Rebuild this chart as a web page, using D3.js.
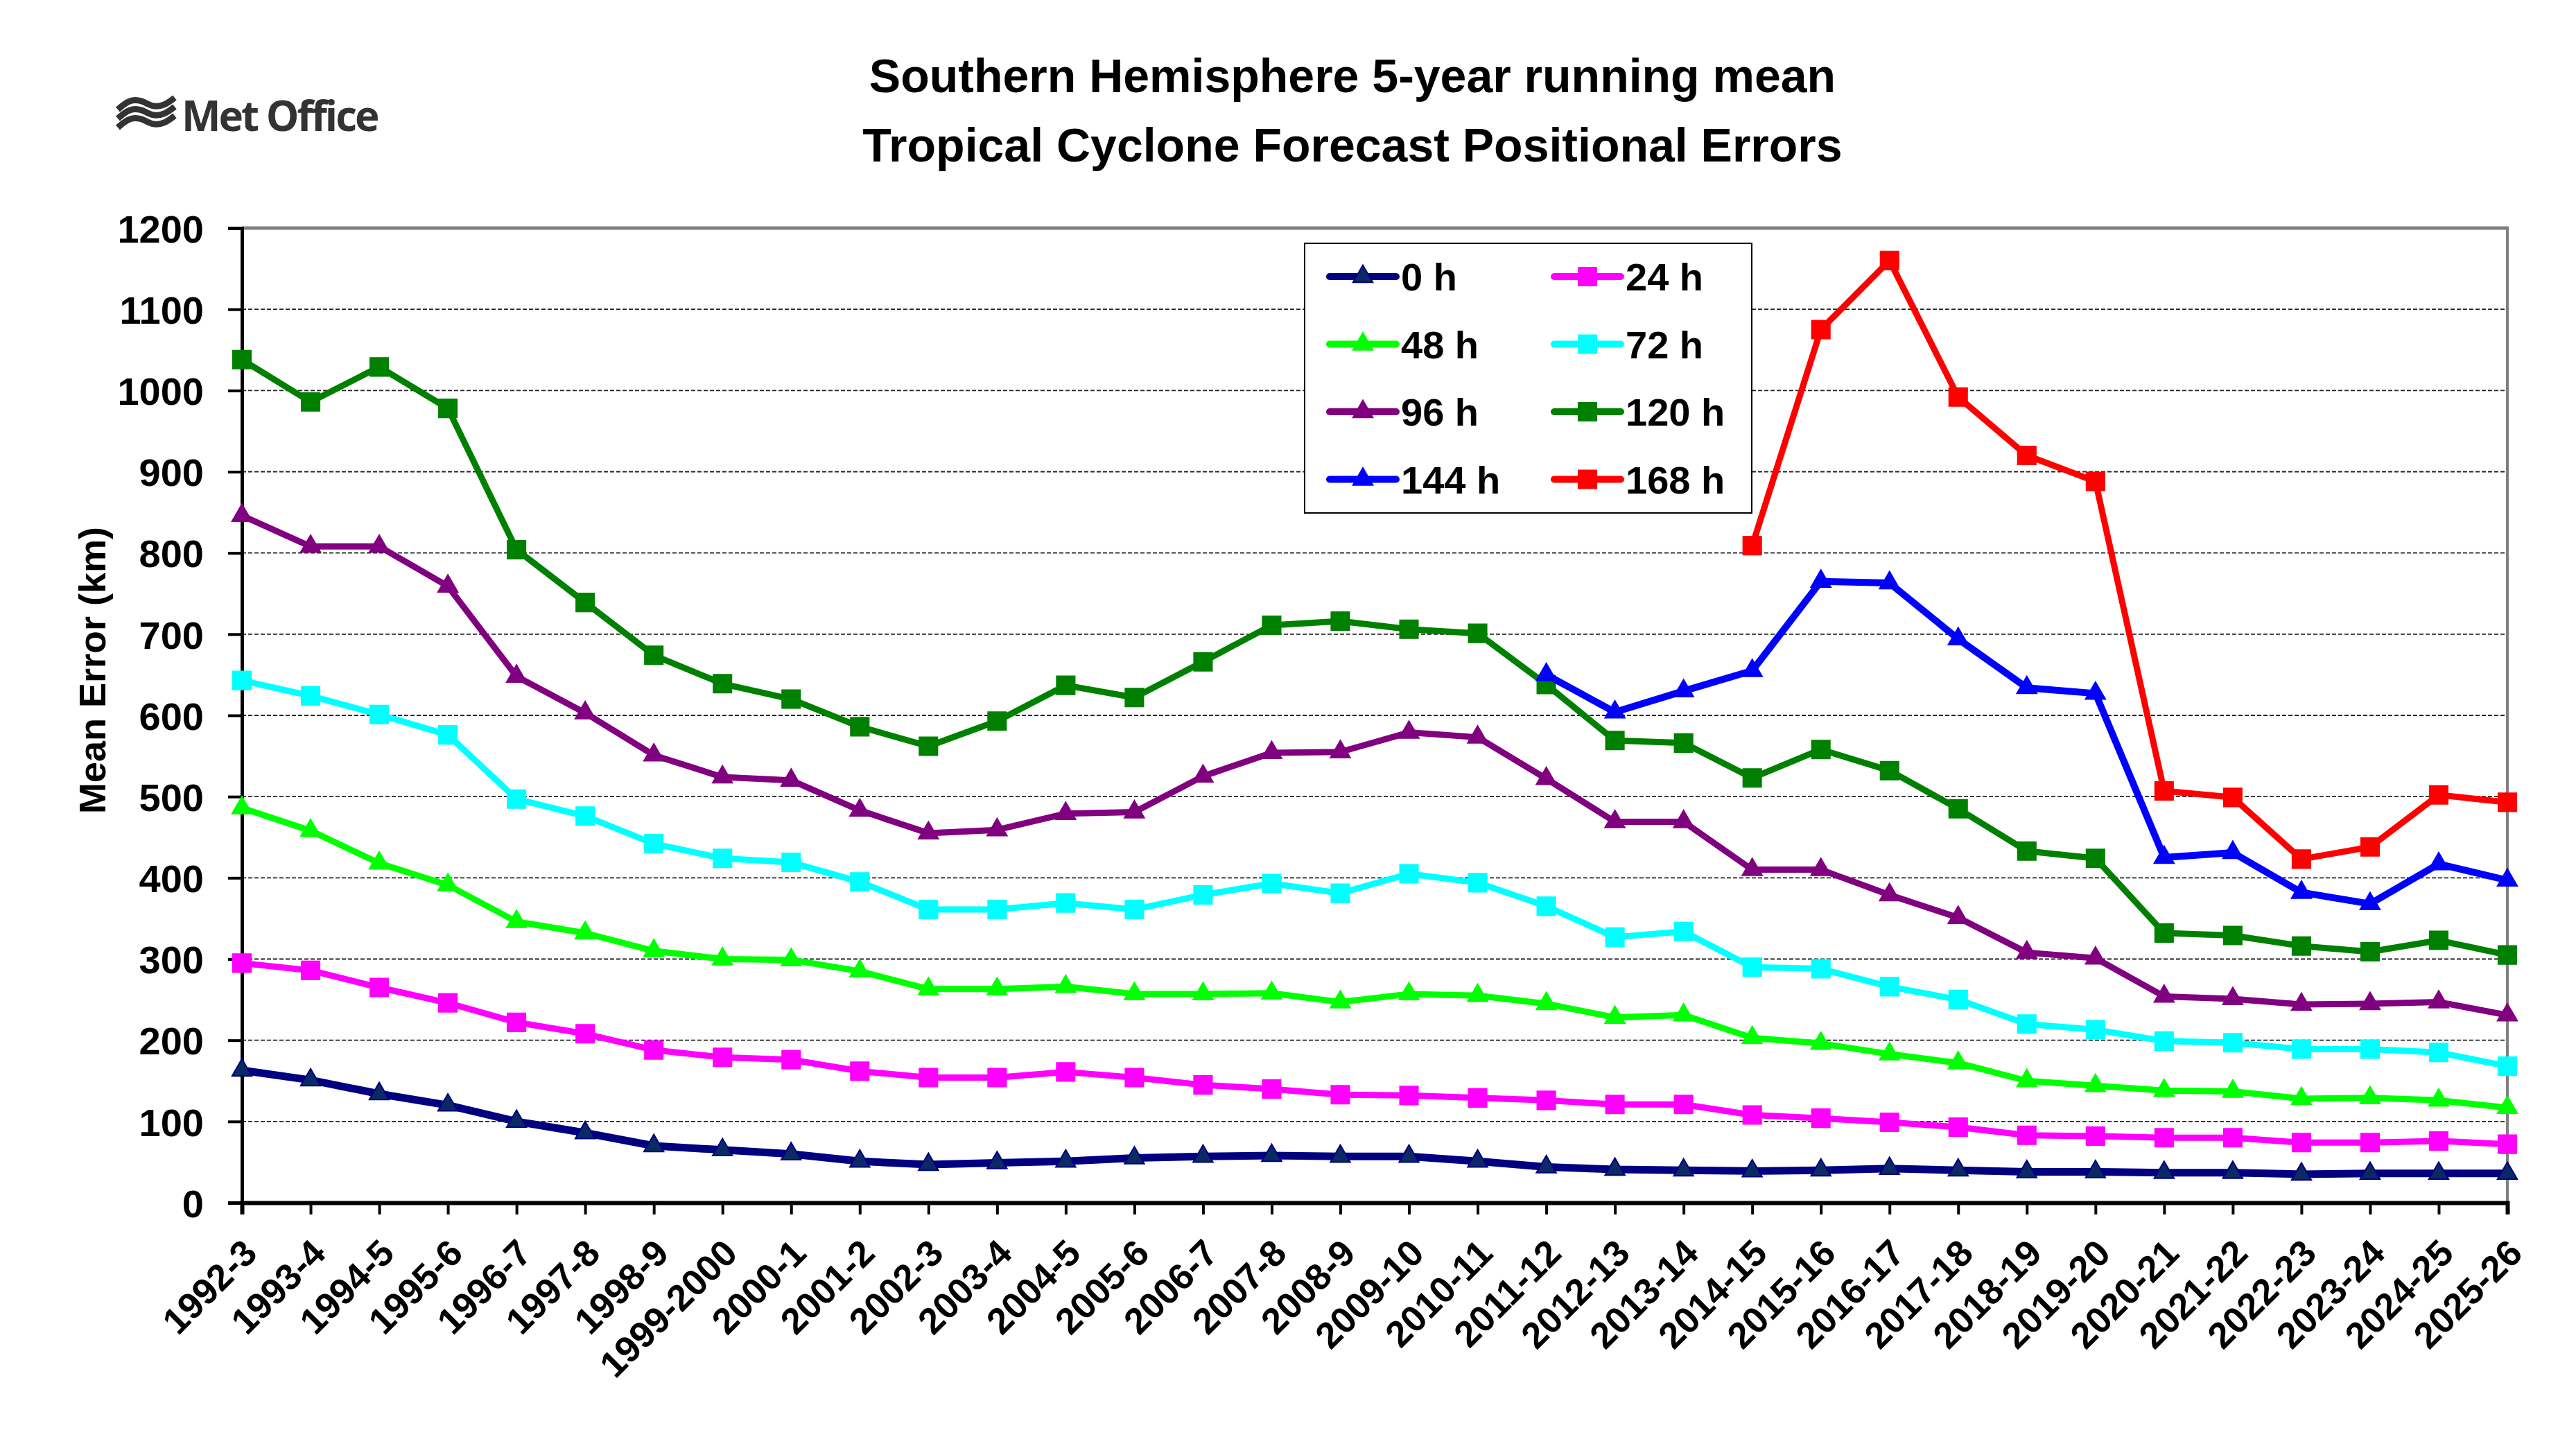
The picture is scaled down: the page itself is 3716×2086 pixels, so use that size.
<!DOCTYPE html>
<html>
<head>
<meta charset="utf-8">
<script src="https://cdn.jsdelivr.net/npm/d3@7"></script>
<style>
  body { margin: 0; background: #fff; }
  svg { display: block; }
</style>
</head>
<body>
<div id="chart"></div>
<script>
// Season labels along the x axis
const categories = ['1992-3', '1993-4', '1994-5', '1995-6', '1996-7', '1997-8', '1998-9', '1999-2000',
  '2000-1', '2001-2', '2002-3', '2003-4', '2004-5', '2005-6', '2006-7', '2007-8', '2008-9', '2009-10',
  '2010-11', '2011-12', '2012-13', '2013-14', '2014-15', '2015-16', '2016-17', '2017-18', '2018-19',
  '2019-20', '2020-21', '2021-22', '2022-23', '2023-24', '2024-25', '2025-26'];

// Mean positional error (km) per forecast lead time
const h0 = [163, 151, 134, 120, 100, 86, 70, 65, 60, 51, 47, 49, 51, 55, 57, 58, 57, 57, 51, 44, 41, 40,
  39, 40, 42, 40, 38, 38, 37, 37, 35, 36, 36, 36];
const h24 = [295, 286, 265, 246, 222, 208, 188, 179, 176, 162, 154, 154, 161, 154, 145, 140, 133, 132,
  129, 126, 121, 121, 108, 104, 99, 93, 83, 82, 80, 80, 74, 74, 76, 72];
const h48 = [486, 458, 418, 391, 346, 332, 310, 300, 299, 285, 263, 263, 266, 257, 257, 258, 247, 257,
  255, 245, 228, 231, 203, 196, 183, 172, 150, 144, 138, 137, 128, 129, 126, 117];
const h72 = [643, 624, 601, 576, 497, 476, 442, 424, 419, 395, 361, 361, 369, 361, 379, 393, 381, 405,
  394, 365, 327, 334, 290, 288, 266, 250, 220, 213, 199, 197, 189, 189, 185, 168];
const h96 = [846, 808, 808, 759, 648, 603, 551, 524, 520, 483, 455, 459, 479, 481, 525, 554, 555, 579,
  573, 522, 469, 469, 410, 410, 379, 351, 308, 301, 254, 251, 244, 245, 247, 231];
const h120 = [1038, 986, 1029, 978, 804, 739, 674, 639, 620, 586, 562, 593, 637, 622, 666, 711, 716, 706,
  701, 638, 569, 566, 523, 558, 532, 485, 433, 424, 332, 329, 316, 309, 323, 305];
const h144 = [null, null, null, null, null, null, null, null, null, null, null, null, null, null, null,
  null, null, null, null, 650, 604, 630, 655, 765, 763, 694, 634, 627, 425, 431, 382, 368, 417, 397];
const h168 = [null, null, null, null, null, null, null, null, null, null, null, null, null, null, null,
  null, null, null, null, null, null, null, 809, 1075, 1160, 992, 920, 888, 507, 499, 423, 438, 502, 493];

const seriesNames = ['0 h', '24 h', '48 h', '72 h', '96 h', '120 h', '144 h', '168 h'];
const yTicks = [0, 100, 200, 300, 400, 500, 600, 700, 800, 900, 1000, 1100, 1200];

// styling for each series
const series = [
  { name: seriesNames[0], values: h0, color: '#000080', fill: '#0b2a63', marker: 'tri', width: 11 },
  { name: seriesNames[1], values: h24, color: '#ff00ff', fill: '#ff00ff', marker: 'sq', width: 9 },
  { name: seriesNames[2], values: h48, color: '#00ff00', fill: '#00ff00', marker: 'tri', width: 9 },
  { name: seriesNames[3], values: h72, color: '#00ffff', fill: '#00ffff', marker: 'sq', width: 9 },
  { name: seriesNames[4], values: h96, color: '#800080', fill: '#800080', marker: 'tri', width: 9 },
  { name: seriesNames[5], values: h120, color: '#008000', fill: '#008000', marker: 'sq', width: 9 },
  { name: seriesNames[6], values: h144, color: '#0000ff', fill: '#0000ff', marker: 'tri', width: 10 },
  { name: seriesNames[7], values: h168, color: '#ff0000', fill: '#ff0000', marker: 'sq', width: 9 }
];

const width = 3716;
const height = 2086;
const plot = { left: 349, right: 3617, top: 329, bottom: 1735 };
const font = '"Liberation Sans", Arial, sans-serif';

const svg = d3.select('#chart')
  .append('svg')
  .attr('width', width)
  .attr('height', height)
  .style('font-family', font);

svg.append('rect').attr('width', width).attr('height', height).attr('fill', '#fff');

const x = d3.scalePoint()
  .domain(categories)
  .range([plot.left, plot.right])
  .padding(0);

const y = d3.scaleLinear()
  .domain([0, 1200])
  .range([plot.bottom, plot.top]);

// Title
const title = svg.append('text')
  .attr('text-anchor', 'middle')
  .style('font-size', '68px')
  .style('font-weight', 'bold')
  .attr('fill', '#000');
title.append('tspan').attr('x', 1951).attr('y', 133).text('Southern Hemisphere 5-year running mean');
title.append('tspan').attr('x', 1951).attr('y', 233).text('Tropical Cyclone Forecast Positional Errors');

// Met Office logo
const logo = svg.append('g');
[149, 162, 175].forEach(cy => {
  logo.append('path')
    .attr('d', d3.line().curve(d3.curveBasis)([
      [170, cy + 9], [186, cy - 5], [204, cy - 5], [220, cy + 6], [238, cy + 3], [252, cy - 8]
    ]))
    .attr('fill', 'none')
    .attr('stroke', '#333')
    .attr('stroke-width', 9);
});
logo.append('text')
  .attr('x', 262)
  .attr('y', 189)
  .style('font-family', '"Open Sans", sans-serif')
  .style('font-size', '60px')
  .style('font-weight', 'bold')
  .style('letter-spacing', '-3px')
  .attr('fill', '#333')
  .text('Met Office');

// Gridlines
svg.append('g')
  .selectAll('line')
  .data(yTicks.filter(t => t > 0 && t < 1200))
  .join('line')
  .attr('x1', plot.left)
  .attr('x2', plot.right)
  .attr('y1', d => y(d))
  .attr('y2', d => y(d))
  .attr('stroke', '#222')
  .attr('stroke-width', 1.8)
  .attr('stroke-dasharray', '6,3');

// top and right border
svg.append('line')
  .attr('x1', plot.left).attr('x2', plot.right + 2)
  .attr('y1', plot.top).attr('y2', plot.top)
  .attr('stroke', '#808080').attr('stroke-width', 5);
svg.append('line')
  .attr('x1', plot.right).attr('x2', plot.right)
  .attr('y1', plot.top).attr('y2', plot.bottom)
  .attr('stroke', '#808080').attr('stroke-width', 4);

// Y axis
const yAxis = svg.append('g')
  .attr('transform', `translate(${plot.left},0)`)
  .call(d3.axisLeft(y).tickValues(yTicks).tickSize(20).tickPadding(0).tickFormat(d3.format('d')));
yAxis.select('.domain').attr('stroke', '#000').attr('stroke-width', 5);
yAxis.selectAll('.tick line').attr('stroke', '#000').attr('stroke-width', 4);
yAxis.selectAll('.tick text')
  .attr('x', -55)
  .attr('dy', '0.36em')
  .attr('fill', '#000')
  .style('font-family', font)
  .style('font-size', '56px')
  .style('font-weight', 'bold');

// X axis
const xAxis = svg.append('g')
  .attr('transform', `translate(0,${plot.bottom})`)
  .call(d3.axisBottom(x).tickSize(17).tickPadding(0));
xAxis.select('.domain').attr('stroke', '#000').attr('stroke-width', 6);
xAxis.selectAll('.tick line').attr('stroke', '#000').attr('stroke-width', 4);
xAxis.selectAll('.tick text')
  .attr('x', 0)
  .attr('y', 0)
  .attr('dy', 0)
  .attr('text-anchor', 'end')
  .attr('transform', 'translate(24,76) rotate(-45)')
  .attr('fill', '#000')
  .style('font-family', font)
  .style('font-size', '53px')
  .style('font-weight', 'bold');

// Y axis title
svg.append('text')
  .attr('transform', 'translate(152,967) rotate(-90)')
  .attr('text-anchor', 'middle')
  .style('font-size', '54px')
  .style('font-weight', 'bold')
  .text('Mean Error (km)');

// Series lines and markers
const line = d3.line()
  .defined(d => d != null)
  .x((d, i) => x(categories[i]))
  .y(d => y(d));

const triangle = d3.symbol().type(d3.symbolTriangle).size(350);
const square = d3.symbol().type(d3.symbolSquare).size(680);

series.forEach(s => {
  const g = svg.append('g');
  g.append('path')
    .attr('d', line(s.values))
    .attr('fill', 'none')
    .attr('stroke', s.color)
    .attr('stroke-width', s.width)
    .attr('stroke-linejoin', 'round');
  const pts = s.values.map((v, i) => ({ v, c: categories[i] })).filter(p => p.v != null);
  g.selectAll('path.mk')
    .data(pts)
    .join('path')
    .attr('class', 'mk')
    .attr('transform', p => `translate(${x(p.c)},${y(p.v)})`)
    .attr('d', s.marker === 'tri' ? triangle : square)
    .attr('fill', s.fill)
    .attr('stroke', s.color)
    .attr('stroke-width', 2);
});

// Legend
const legend = svg.append('g');
legend.append('rect')
  .attr('x', 1882).attr('y', 351)
  .attr('width', 645).attr('height', 389)
  .attr('fill', '#fff')
  .attr('stroke', '#000')
  .attr('stroke-width', 2);

series.forEach((s, i) => {
  const col = i % 2;
  const row = Math.floor(i / 2);
  const lx = col === 0 ? 1918 : 2242;
  const ly = 399 + row * 97.5;
  const item = legend.append('g').attr('transform', `translate(${lx},${ly})`);
  item.append('line')
    .attr('x1', 0).attr('x2', 96)
    .attr('stroke', s.color)
    .attr('stroke-width', 10)
    .attr('stroke-linecap', 'round');
  item.append('path')
    .attr('transform', 'translate(48,0)')
    .attr('d', s.marker === 'tri' ? triangle : square)
    .attr('fill', s.fill)
    .attr('stroke', s.color)
    .attr('stroke-width', 2);
  item.append('text')
    .attr('x', 103)
    .attr('y', 0)
    .attr('dy', '0.36em')
    .style('font-size', '56px')
    .style('font-weight', 'bold')
    .text(s.name);
});
</script>
</body>
</html>
